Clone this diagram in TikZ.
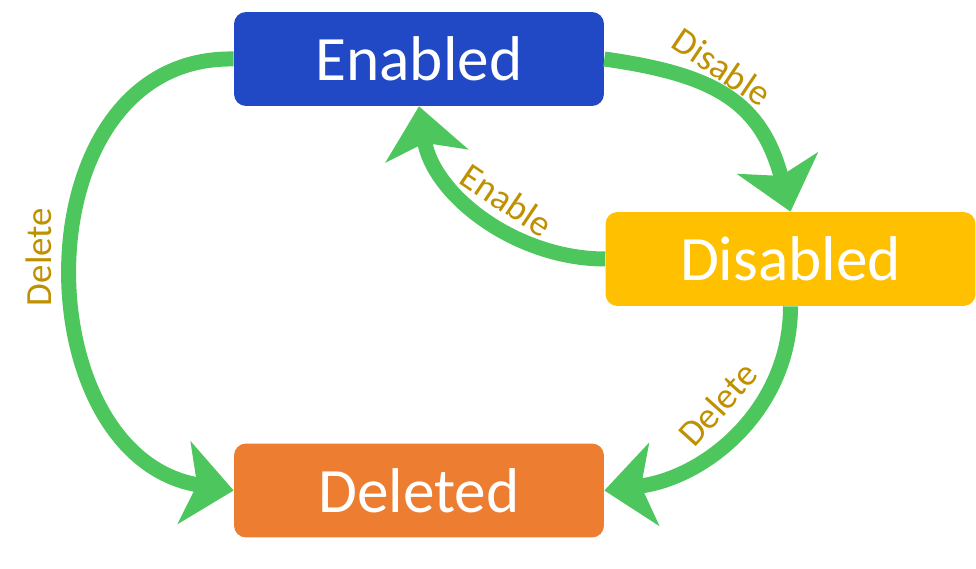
\documentclass[tikz,border=0pt]{standalone}
\usepackage{fontspec}
\setmainfont{Carlito}
\usetikzlibrary{arrows.meta}

\definecolor{stBlue}{HTML}{2149C6}
\definecolor{stYellow}{HTML}{FFC000}
\definecolor{stOrange}{HTML}{ED7D31}
\definecolor{trGreen}{HTML}{4DC65E}
\definecolor{lblGold}{HTML}{BF9000}

\begin{document}
\begin{tikzpicture}[
  x=0.02cm, y=0.02cm,
  >={Stealth[length=1cm, width=1.66cm, inset=0.26cm]},
  state/.style={rounded corners=0.24cm, minimum width=7.4cm,
                minimum height=1.88cm, inner sep=0pt, text=white,
                font=\fontsize{36}{40}\selectfont},
  tr/.style={->, line width=0.3cm, draw=trGreen},
  lbl/.style={inner sep=0pt, text=lblGold,
              font=\fontsize{21}{24}\selectfont},
]
  \useasboundingbox (0,0) rectangle (976,568);

  % states
  \node[state, fill=stBlue] (en) at (419,509) {Enabled};
  \node[state, fill=stYellow] (dis) at (790.5,309) {Disabled};
  \node[state, fill=stOrange] (del) at (419,77.5) {Deleted};

  % transitions
  \draw[tr] (en.east) to[out=-8, in=105, looseness=1.2] (dis.north);
  \draw[tr] (dis.west) to[out=180, in=-81, looseness=0.95] (en.south);
  \draw[tr] (en.west) .. controls (18,513) and (21,111) .. (del.west);
  \draw[tr] (dis.south) to[out=-90, in=7] (del.east);

  % labels
  \node[lbl, rotate=-34] (lDisable) at (722,501) {Disable};
  \node[lbl, rotate=-34] (lEnable) at (507,368) {Enable};
  \node[lbl, rotate=90] (lDelLeft) at (39,311) {Delete};
  \node[lbl, rotate=48] (lDelRight) at (718,164) {Delete};
\end{tikzpicture}
\end{document}
